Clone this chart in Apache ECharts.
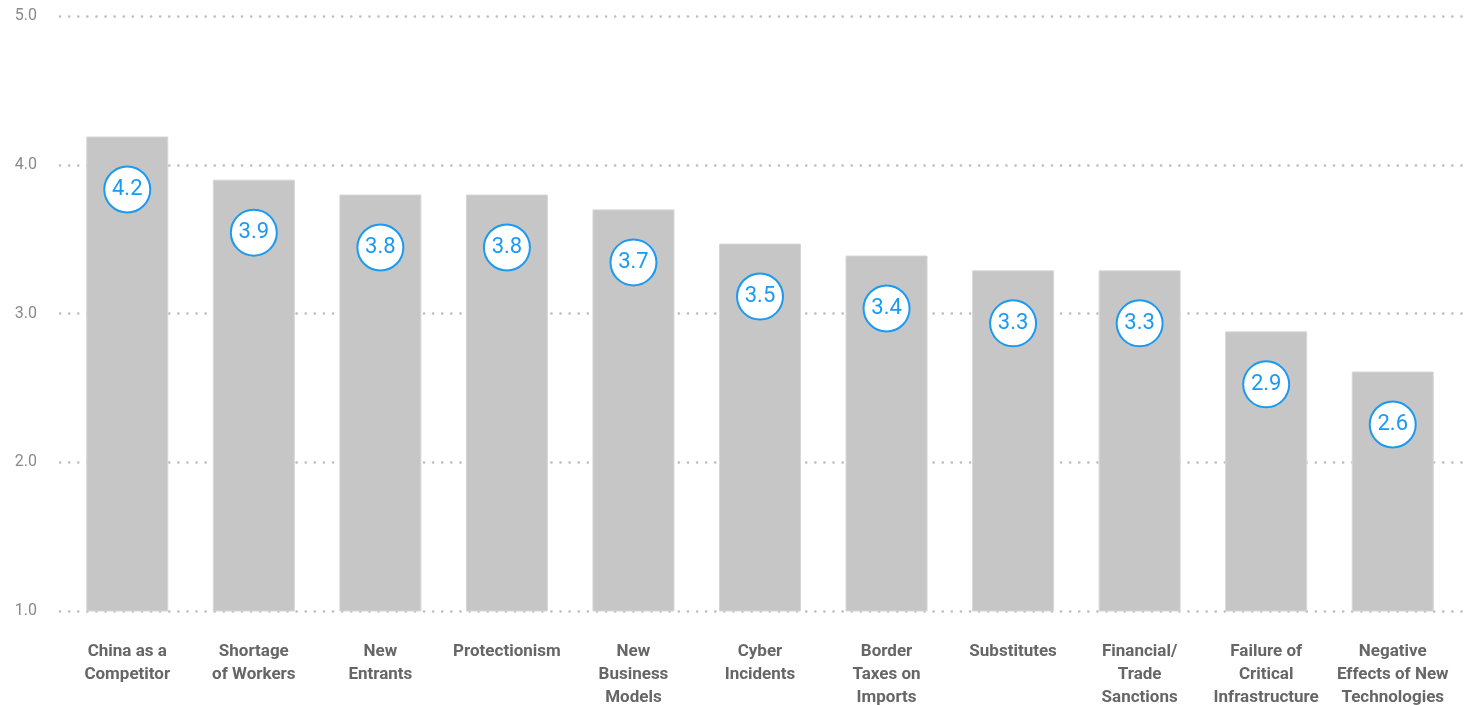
<!DOCTYPE html>
<html>
<head>
<meta charset="utf-8">
<style>html,body{margin:0;padding:0;background:#fff}#c{width:1470px;height:705px}</style>
<script src="https://cdn.jsdelivr.net/npm/echarts@6/dist/echarts.min.js"></script>
</head>
<body>
<div id="c"></div>
<script>
const categories = ["China as a\nCompetitor","Shortage\nof Workers","New\nEntrants","Protectionism","New\nBusiness\nModels","Cyber\nIncidents","Border\nTaxes on\nImports","Substitutes","Financial/\nTrade\nSanctions","Failure of\nCritical\nInfrastructure","Negative\nEffects of New\nTechnologies"];
const values = [4.19, 3.9, 3.8, 3.8, 3.7, 3.47, 3.39, 3.29, 3.29, 2.88, 2.61];
const yTicks = [1, 2, 3, 4, 5];

const chart = echarts.init(document.getElementById('c'));
chart.setOption({
  animation: false,
  grid: [
    {left: 60, right: 0, top: 16, bottom: 94, outerBoundsMode: 'none', containLabel: false},
    {left: 64, right: 14, top: 16, bottom: 94, outerBoundsMode: 'none', containLabel: false}
  ],
  xAxis: [
    {gridIndex: 0, type: 'category', data: categories, show: false},
    {gridIndex: 1, type: 'category', data: categories,
     axisLine: {show: false}, axisTick: {show: false},
     axisLabel: {interval: 0, margin: 29, color: '#666666', fontFamily: 'Roboto', fontWeight: 'bold', fontSize: 17, lineHeight: 23}}
  ],
  yAxis: [
    {gridIndex: 0, type: 'value', min: yTicks[0], max: yTicks[yTicks.length-1], interval: 1,
     axisLine: {show: false}, axisTick: {show: false},
     axisLabel: {margin: 23, color: '#8a8a8a', fontFamily: 'Roboto', fontSize: 16, formatter: v => v.toFixed(1)},
     splitLine: {show: true, lineStyle: {color: '#bdbdbd', width: 2.6, type: [0.1, 9], cap: 'round'}}},
    {gridIndex: 1, type: 'value', min: yTicks[0], max: yTicks[yTicks.length-1], interval: 1, show: false, splitLine: {show: false}}
  ],
  series: [{
    type: 'bar',
    xAxisIndex: 1, yAxisIndex: 1,
    data: values,
    barWidth: 82,
    itemStyle: {color: '#c6c6c6', borderColor: '#d6d6d6', borderWidth: 1},
    label: {
      show: true,
      position: 'insideTop',
      distance: 31,
      formatter: p => p.value.toFixed(1),
      color: '#1a9af0',
      fontFamily: 'Roboto',
      fontSize: 22,
      width: 44, height: 44, lineHeight: 44,
      align: 'center',
      backgroundColor: '#fff',
      borderColor: '#1a9af0',
      borderWidth: 2,
      borderRadius: 24
    }
  }]
});
</script>
</body>
</html>
